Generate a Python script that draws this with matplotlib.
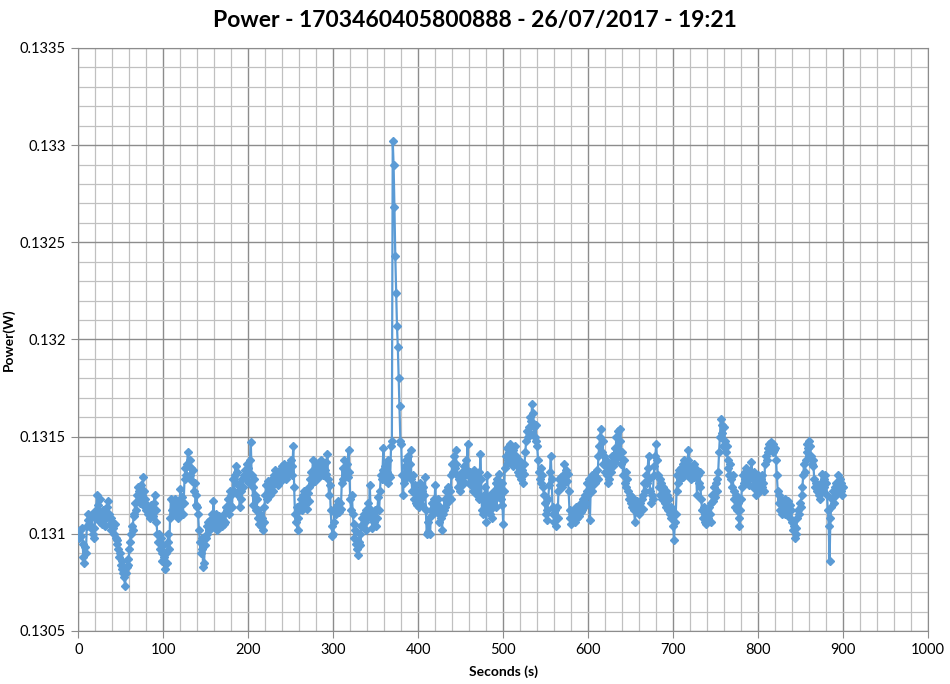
import matplotlib.pyplot as plt
import numpy as np

plt.rcParams['font.family'] = ['Lato', 'DejaVu Sans']

# power readings in mW, one per second from 0 to 900 s
power_mw = [
    # 0
    131.00, 130.98, 131.02, 130.99, 131.03, 130.95, 130.88, 130.85, 130.93, 130.90,
    131.04, 131.07, 131.10, 131.05, 131.08, 131.03, 131.10, 131.00, 130.98, 131.03,
    131.08, 131.12, 131.20, 131.15, 131.10, 131.18, 131.06, 131.10, 131.05, 131.12,
    131.07, 131.11, 131.04, 131.09, 131.14, 131.17, 131.10, 131.05, 131.08, 131.02,
    131.06, 131.03, 131.00, 131.05, 130.98, 130.95, 130.97, 130.92, 130.88, 130.90,
    130.84, 130.82, 130.86, 130.80, 130.78, 130.73, 130.80, 130.83, 130.87, 130.84,
    130.92, 130.96, 131.00, 131.04, 131.02, 131.09, 131.10, 131.16, 131.12, 131.20,
    131.24, 131.18, 131.22, 131.16, 131.25, 131.20, 131.29, 131.22, 131.14, 131.18,
    131.12, 131.15, 131.10, 131.13, 131.08, 131.15, 131.11, 131.14, 131.09, 131.16,
    131.20, 131.12, 131.06, 131.00, 130.96, 131.00, 130.92, 130.98, 130.90, 130.86,
    # 100
    130.94, 130.88, 130.82, 130.90, 130.85, 130.96, 131.00, 130.92, 131.08, 131.18,
    131.12, 131.17, 131.10, 131.14, 131.18, 131.11, 131.15, 131.08, 131.17, 131.12,
    131.23, 131.15, 131.19, 131.10, 131.16, 131.28, 131.34, 131.30, 131.36, 131.42,
    131.35, 131.38, 131.30, 131.34, 131.27, 131.33, 131.22, 131.26, 131.15, 131.20,
    131.14, 131.10, 131.02, 130.96, 130.90, 130.98, 130.92, 130.83, 130.85, 130.94,
    130.98, 131.04, 131.00, 131.06, 131.02, 131.07, 131.03, 131.10, 131.05, 131.17,
    131.08, 131.04, 131.10, 131.02, 131.06, 131.04, 131.09, 131.05, 131.08, 131.04,
    131.07, 131.05, 131.10, 131.06, 131.14, 131.12, 131.18, 131.10, 131.22, 131.15,
    131.20, 131.14, 131.28, 131.22, 131.30, 131.35, 131.26, 131.32, 131.20, 131.25,
    131.14, 131.22, 131.18, 131.28, 131.24, 131.30, 131.33, 131.28, 131.36, 131.30,
    # 200
    131.34, 131.26, 131.38, 131.47, 131.30, 131.24, 131.15, 131.28, 131.20, 131.12,
    131.18, 131.08, 131.12, 131.05, 131.10, 131.04, 131.08, 131.02, 131.06, 131.14,
    131.20, 131.25, 131.18, 131.27, 131.22, 131.26, 131.20, 131.24, 131.28, 131.22,
    131.30, 131.26, 131.33, 131.28, 131.31, 131.25, 131.29, 131.33, 131.27, 131.32,
    131.35, 131.30, 131.36, 131.31, 131.34, 131.28, 131.33, 131.30, 131.36, 131.32,
    131.38, 131.30, 131.35, 131.45, 131.24, 131.10, 131.06, 131.14, 131.02, 131.08,
    131.12, 131.15, 131.18, 131.12, 131.20, 131.16, 131.22, 131.15, 131.19, 131.13,
    131.21, 131.17, 131.24, 131.28, 131.32, 131.26, 131.38, 131.30, 131.34, 131.27,
    131.33, 131.30, 131.36, 131.29, 131.35, 131.32, 131.38, 131.34, 131.30, 131.36,
    131.33, 131.37, 131.31, 131.41, 131.28, 131.20, 131.25, 131.12, 131.04, 130.99,
    # 300
    131.00, 131.06, 131.12, 131.10, 131.15, 131.12, 131.17, 131.11, 131.16, 131.13,
    131.26, 131.34, 131.28, 131.38, 131.30, 131.33, 131.36, 131.29, 131.43, 131.32,
    131.18, 131.12, 131.20, 131.10, 131.05, 130.98, 131.02, 130.95, 130.92, 130.89,
    130.96, 131.00, 130.94, 131.04, 131.08, 131.05, 131.10, 131.06, 131.02, 131.12,
    131.08, 131.16, 131.10, 131.25, 131.12, 131.08, 131.03, 131.10, 131.06, 131.12,
    131.04, 131.08, 131.13, 131.19, 131.12, 131.22, 131.30, 131.28, 131.33, 131.44,
    131.28, 131.35, 131.27, 131.32, 131.26, 131.38, 131.30, 131.29, 131.45, 131.48,
    133.02, 132.90, 132.68, 132.43, 132.24, 132.07, 131.96, 131.80, 131.66, 131.48,
    131.46, 131.30, 131.20, 131.26, 131.35, 131.28, 131.38, 131.32, 131.40, 131.30,
    131.36, 131.43, 131.28, 131.22, 131.30, 131.18, 131.25, 131.16, 131.22, 131.15,
    # 400
    131.20, 131.14, 131.26, 131.18, 131.22, 131.15, 131.24, 131.20, 131.29, 131.12,
    131.00, 131.06, 131.01, 131.08, 131.00, 131.12, 131.16, 131.10, 131.18, 131.14,
    131.25, 131.16, 131.12, 131.18, 131.10, 131.06, 131.14, 131.08, 131.02, 131.10,
    131.12, 131.18, 131.14, 131.22, 131.16, 131.24, 131.19, 131.22, 131.18, 131.30,
    131.36, 131.32, 131.40, 131.34, 131.43, 131.36, 131.30, 131.24, 131.28, 131.22,
    131.30, 131.25, 131.32, 131.27, 131.35, 131.30, 131.38, 131.33, 131.46, 131.30,
    131.26, 131.32, 131.25, 131.30, 131.22, 131.28, 131.33, 131.24, 131.29, 131.20,
    131.27, 131.32, 131.18, 131.41, 131.28, 131.12, 131.10, 131.20, 131.14, 131.24,
    131.06, 131.30, 131.18, 131.12, 131.20, 131.10, 131.16, 131.08, 131.14, 131.22,
    131.18, 131.26, 131.14, 131.28, 131.20, 131.31, 131.24, 131.18, 131.26, 131.15,
    # 500
    131.05, 131.22, 131.34, 131.40, 131.36, 131.44, 131.38, 131.42, 131.46, 131.37,
    131.41, 131.35, 131.43, 131.38, 131.45, 131.40, 131.36, 131.32, 131.38, 131.30,
    131.35, 131.28, 131.33, 131.26, 131.31, 131.36, 131.42, 131.48, 131.53, 131.50,
    131.55, 131.52, 131.60, 131.58, 131.67, 131.62, 131.55, 131.50, 131.56, 131.48,
    131.45, 131.38, 131.32, 131.28, 131.34, 131.26, 131.30, 131.24, 131.20, 131.16,
    131.10, 131.07, 131.12, 131.18, 131.25, 131.32, 131.40, 131.28, 131.14, 131.10,
    131.06, 131.12, 131.04, 131.14, 131.08, 131.22, 131.28, 131.25, 131.29, 131.24,
    131.30, 131.26, 131.36, 131.30, 131.33, 131.27, 131.31, 131.22, 131.12, 131.08,
    131.05, 131.10, 131.07, 131.12, 131.06, 131.10, 131.14, 131.08, 131.12, 131.09,
    131.15, 131.11, 131.16, 131.12, 131.18, 131.14, 131.20, 131.16, 131.22, 131.26,
    # 600
    131.20, 131.28, 131.07, 131.24, 131.30, 131.22, 131.27, 131.31, 131.26, 131.29,
    131.33, 131.28, 131.40, 131.45, 131.50, 131.54, 131.42, 131.48, 131.36, 131.40,
    131.32, 131.38, 131.30, 131.26, 131.34, 131.28, 131.36, 131.32, 131.40, 131.35,
    131.38, 131.44, 131.37, 131.50, 131.42, 131.53, 131.40, 131.48, 131.54, 131.36,
    131.42, 131.30, 131.38, 131.26, 131.32, 131.24, 131.28, 131.22, 131.18, 131.20,
    131.16, 131.19, 131.14, 131.18, 131.12, 131.06, 131.15, 131.11, 131.17, 131.13,
    131.10, 131.16, 131.12, 131.18, 131.13, 131.20, 131.26, 131.22, 131.30, 131.26,
    131.34, 131.40, 131.28, 131.22, 131.16, 131.20, 131.18, 131.30, 131.35, 131.40,
    131.46, 131.38, 131.30, 131.24, 131.28, 131.20, 131.26, 131.18, 131.24, 131.20,
    131.16, 131.22, 131.14, 131.20, 131.12, 131.18, 131.10, 131.14, 131.08, 131.12,
    # 700
    131.04, 130.97, 131.06, 131.10, 131.22, 131.30, 131.26, 131.33, 131.28, 131.34,
    131.30, 131.36, 131.29, 131.38, 131.32, 131.35, 131.30, 131.38, 131.43, 131.32,
    131.35, 131.28, 131.33, 131.30, 131.36, 131.29, 131.34, 131.31, 131.20, 131.30,
    131.26, 131.32, 131.24, 131.18, 131.12, 131.08, 131.14, 131.06, 131.10, 131.05,
    131.12, 131.08, 131.14, 131.10, 131.06, 131.16, 131.20, 131.17, 131.24, 131.19,
    131.26, 131.22, 131.28, 131.32, 131.42, 131.50, 131.59, 131.56, 131.52, 131.45,
    131.55, 131.48, 131.42, 131.45, 131.38, 131.34, 131.30, 131.36, 131.28, 131.24,
    131.30, 131.22, 131.18, 131.14, 131.20, 131.12, 131.16, 131.08, 131.04, 131.12,
    131.18, 131.24, 131.30, 131.26, 131.32, 131.28, 131.34, 131.27, 131.30, 131.25,
    131.32, 131.29, 131.37, 131.30, 131.24, 131.32, 131.26, 131.20, 131.28, 131.22,
    # 800
    131.30, 131.25, 131.22, 131.28, 131.24, 131.30, 131.26, 131.22, 131.36, 131.40,
    131.38, 131.44, 131.42, 131.46, 131.44, 131.47, 131.45, 131.42, 131.46, 131.43,
    131.44, 131.38, 131.30, 131.22, 131.16, 131.20, 131.12, 131.18, 131.10, 131.16,
    131.12, 131.18, 131.10, 131.14, 131.11, 131.17, 131.12, 131.15, 131.08, 131.12,
    131.06, 131.02, 131.04, 130.98, 131.00, 131.03, 131.08, 131.12, 131.10, 131.16,
    131.14, 131.20, 131.24, 131.30, 131.36, 131.32, 131.38, 131.42, 131.46, 131.44,
    131.48, 131.45, 131.40, 131.36, 131.38, 131.35, 131.28, 131.24, 131.26, 131.22,
    131.25, 131.20, 131.24, 131.18, 131.26, 131.31, 131.22, 131.28, 131.24, 131.30,
    131.26, 131.20, 131.12, 131.04, 130.86, 131.08, 131.14, 131.18, 131.22, 131.16,
    131.24, 131.20, 131.26, 131.22, 131.30, 131.24, 131.28, 131.22, 131.26, 131.20,
    # 900
    131.24,
]
seconds = list(range(len(power_mw)))
power_w = np.array(power_mw) / 1000.0

ytick_vals = [0.1305, 0.131, 0.1315, 0.132, 0.1325, 0.133, 0.1335]
ytick_labels = ['0.1305', '0.131', '0.1315', '0.132', '0.1325', '0.133', '0.1335']
xtick_vals = [0, 100, 200, 300, 400, 500, 600, 700, 800, 900, 1000]

fig = plt.figure(figsize=(9.5, 6.84), dpi=100)
ax = fig.add_axes([0.0824, 0.0775, 0.8946, 0.8525])

ax.plot(seconds, power_w, color='#5b9bd5', lw=1.6, marker='D', ms=3.8,
        markerfacecolor='#5b9bd5', markeredgecolor='#5b9bd5', zorder=3)

ax.set_xlim(0, 1000)
ax.set_ylim(0.1305, 0.1335)
ax.set_xticks(xtick_vals)
ax.set_yticks(ytick_vals)
ax.set_yticklabels(ytick_labels)
ax.set_xticks(np.arange(0, 1001, 20), minor=True)
ax.set_yticks(np.arange(0.1305, 0.13351, 0.0001), minor=True)

ax.grid(which='minor', color='#c0c0c0', lw=0.9, zorder=0)
ax.grid(which='major', color='#8c8c8c', lw=1.0, zorder=1)
ax.tick_params(which='minor', length=0)
ax.tick_params(which='major', length=5, color='#8c8c8c', labelsize=10.5, pad=4)
for sp in ax.spines.values():
    sp.set_color('#8c8c8c')

ax.set_xlabel('Seconds (s)', fontsize=10, fontweight='bold', labelpad=6)
ax.set_ylabel('Power(W)', fontsize=10, fontweight='bold')
ax.yaxis.set_label_coords(-0.075, 0.5)
fig.suptitle('Power - 1703460405800888 - 26/07/2017 - 19:21', fontsize=16.5,
             fontweight='bold', y=0.985)

fig.savefig('out.png', dpi=100)
